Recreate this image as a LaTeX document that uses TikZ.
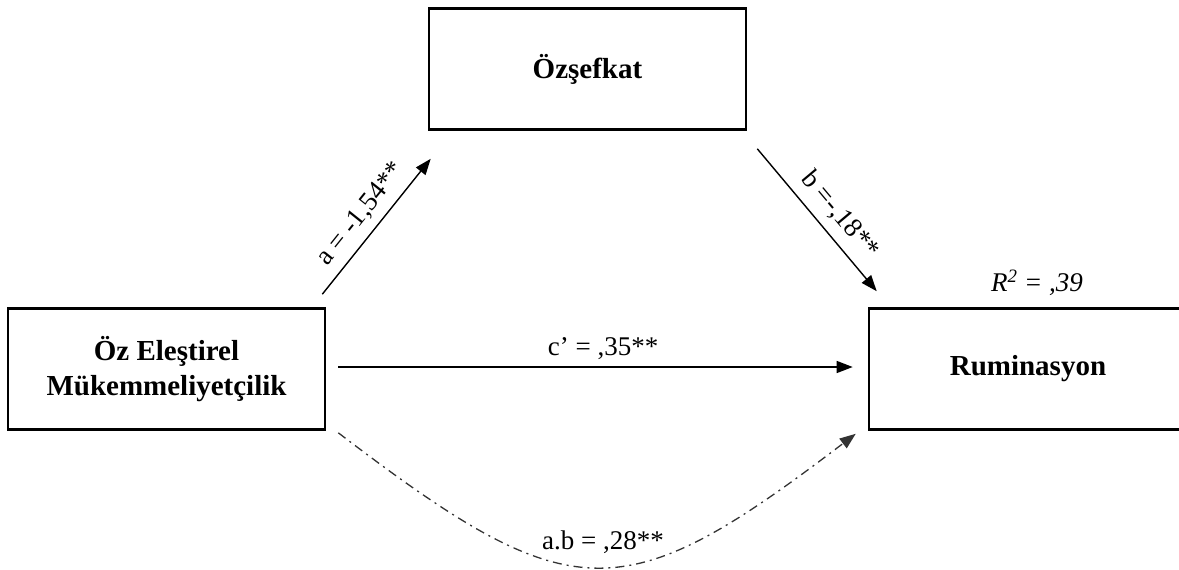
\documentclass[tikz,border=0pt]{standalone}
\usepackage{fontspec}
\setmainfont{Liberation Serif}
\usetikzlibrary{arrows.meta,calc}
\begin{document}
\begin{tikzpicture}[x=1pt,y=-1pt,
  varbox/.style={draw,line width=2.6pt,minimum width=#1,minimum height=121pt,inner sep=0pt,align=center,
    font=\fontsize{29}{35}\selectfont\bfseries},
  lbl/.style={font=\fontsize{27}{32}\selectfont,inner sep=1pt},
  arr/.style={line width=1.4pt,-{Triangle[length=16pt,width=12pt]}},
  dd/.style={line width=1.3pt,black!80,dash pattern=on 9pt off 5pt on 2pt off 5pt,-{Triangle[length=16pt,width=12pt]}}
]
\useasboundingbox (0,0) rectangle (1179,570);
\clip (0,0) rectangle (1179,570);

\node[varbox=317pt] (ozs) at (587.5,69) {Özşefkat};
\node[varbox=317pt] (oze) at (166.5,369) {Öz Eleştirel\\Mükemmeliyetçilik};
\node[varbox=318pt] (rum) at (1028,369) {Ruminasyon};

\coordinate (a1) at ($(oze.north east)+(-4,-13)$);
\coordinate (a2) at ($(ozs.south west)+(3,28)$);
\coordinate (b1) at ($(ozs.south east)+(10,18)$);
\coordinate (b2) at ($(rum.north west)+(9,-16)$);
\coordinate (c1) at ($(oze.east)+(12,-2)$);
\coordinate (c2) at ($(rum.west)+(-15,-2)$);
\coordinate (d1) at ($(oze.south east)+(12,2)$);
\coordinate (d2) at ($(rum.south west)+(-12,3)$);

\draw[arr] (a1) -- node[lbl,sloped,above=7pt,pos=0.5] (la) {a = -1,54**} (a2);
\draw[arr] (b1) -- node[lbl,sloped,above=8pt,pos=0.56] (lb) {b =-,18**} (b2);
\draw[arr] (c1) -- node[lbl,above=6pt,pos=0.515] (lc) {c’ = ,35**} (c2);
\draw[dd] (d1) .. controls (572,611) and (622,612) .. (d2);

\node[lbl] (lab) at (603,542) {a.b = ,28**};
\node[lbl,font=\fontsize{27}{32}\selectfont\itshape] (r2) at (1037,283) {R\textsuperscript{2} = ,39};
\end{tikzpicture}
\end{document}
